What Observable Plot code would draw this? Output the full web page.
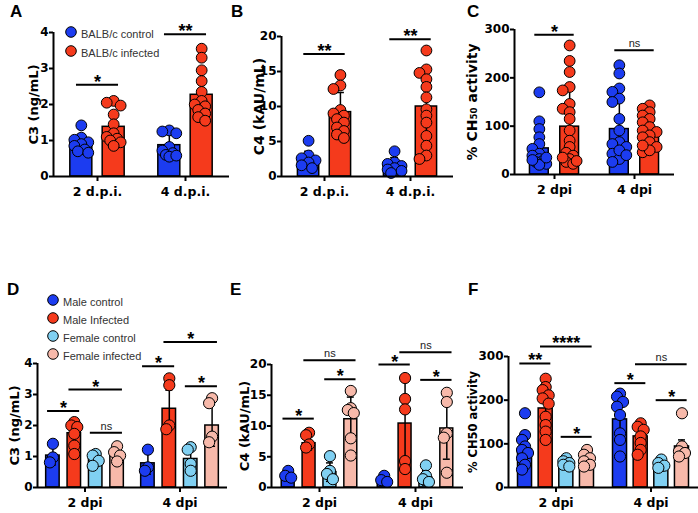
<!DOCTYPE html>
<html><head><meta charset="utf-8">
<script src="https://cdn.jsdelivr.net/npm/d3@7"></script>
<script src="https://cdn.jsdelivr.net/npm/@observablehq/plot@0.6"></script>
<style>
body{margin:0;background:#fff;}
#fig{position:relative;width:698px;height:513px;overflow:hidden;font-family:"Liberation Sans",Arial,sans-serif;background:#fff;}
#fig svg{position:absolute;overflow:visible;}
.letter{position:absolute;font-weight:bold;font-size:17px;line-height:17px;color:#000;}
.legend{position:absolute;font-size:11px;color:#333;}
.legend .row{position:absolute;display:flex;align-items:center;white-space:nowrap;height:14px;}
.legend .row svg{position:static;margin-right:4px;}
</style></head><body><div id="fig"></div>
<script>
// ---------- data ----------
const dpiTop = ["2 d.p.i.", "4 d.p.i."];
const dpiShort = ["2 dpi", "4 dpi"];
const groupsTop = ["BALB/c control", "BALB/c infected"];
const groupsBottom = ["Male control", "Male Infected", "Female control", "Female infected"];
const colorsTop = ["#1c3cf0", "#f53a1c"];
const colorsBottom = ["#1c3cf0", "#f53a1c", "#80d0f2", "#f7b9aa"];

const ticksA = [0, 1, 2, 3, 4];
const ticksB = [0, 5, 10, 15, 20];
const ticksC = [0, 100, 200, 300];
const ticksD = [0, 1, 2, 3, 4];
const ticksE = [0, 5, 10, 15, 20];
const ticksF = [0, 100, 200, 300];

// [dpi][group]
const meanA = [[0.95, 1.38], [0.87, 2.27]];
const sdA = [[0.22, 0.38], [0.30, 0.75]];
const pointsA = [
  [[1.42, 1.08, 1.02, 0.95, 0.9, 0.85, 0.75, 0.7, 0.66],
   [2.1, 2.05, 1.97, 1.72, 1.45, 1.2, 1.1, 1.05, 1.0, 0.95, 0.85]],
  [[1.28, 1.25, 1.2, 0.82, 0.72, 0.65, 0.6, 0.55, 0.58],
   [3.55, 3.3, 2.95, 2.65, 2.35, 2.1, 2.0, 1.95, 1.85, 1.75, 1.65, 1.55]]
];
const sigA = [[0, 0, 1, 2.55, "*"], [1, 0, 1, 3.95, "**"]];

const meanB = [[2.6, 9.2], [1.7, 10.0]];
const sdB = [[1.0, 2.8], [1.0, 4.0]];
const pointsB = [
  [[5.1, 3.0, 2.6, 2.3, 2.0, 1.6, 1.2],
   [14.5, 13.0, 12.5, 9.5, 9.0, 8.7, 8.2, 7.7, 7.0, 6.5, 6.0, 5.5]],
  [[3.6, 2.0, 1.8, 1.5, 1.2, 1.0, 0.8, 0.5],
   [18.0, 15.3, 14.8, 13.9, 12.8, 11.3, 9.6, 8.7, 7.7, 5.8, 4.4, 3.0, 2.5]]
];
const sigB = [[0, 0, 1, 17.5, "**"], [1, 0, 1, 19.6, "**"]];

const meanC = [[54, 99], [94, 87]];
const sdC = [[35, 80], [57, 30]];
const pointsC = [
  [[170, 110, 94, 77, 63, 53, 43, 39, 32, 28, 26, 22, 20, 35, 30],
   [267, 235, 212, 181, 174, 146, 136, 129, 115, 91, 70, 57, 45, 39, 32, 26, 22, 35, 28]],
  [[226, 209, 178, 171, 157, 150, 115, 91, 67, 63, 57, 43, 32, 26, 50, 40],
   [143, 136, 129, 122, 115, 108, 98, 91, 88, 81, 77, 67, 57, 46, 50, 60]]
];
const sigC = [[0, 0, 1, 289, "*"], [1, 0, 1, 257, "ns"]];

const meanD = [[1.03, 1.75, 0.92, 1.03], [0.78, 2.54, 0.92, 2.0]];
const sdD = [[0.3, 0.35, 0.15, 0.18], [0.35, 0.6, 0.3, 0.67]];
const pointsD = [
  [[1.41, 0.97, 0.81], [2.11, 2.0, 1.95, 1.73, 1.35, 1.08], [1.08, 1.03, 0.86, 0.7], [1.33, 1.14, 1.03, 0.84]],
  [[1.22, 0.65, 0.54], [3.52, 3.3, 2.0, 1.88], [1.3, 1.22, 0.76, 0.54], [2.88, 2.72, 1.64, 1.46]]
];
const sigD = [[0, 0, 1, 2.47, "*"], [0, 1, 3, 3.16, "*"], [0, 2, 3, 1.77, "ns"],
              [1, 0, 1, 3.91, "*"], [1, 1, 3, 4.69, "*"], [1, 2, 3, 3.27, "*"]];

const meanE = [[2.1, 7.2, 2.5, 11.1], [1.35, 10.4, 1.6, 9.6]];
const sdE = [[0.5, 1.1, 1.5, 3.6], [0.4, 7.0, 1.2, 5.0]];
const pointsE = [
  [[2.7, 1.9, 1.6], [8.9, 8.5, 7.0, 6.5], [5.1, 2.7, 2.2, 1.35], [15.7, 12.9, 12.6, 12.1, 8.0, 5.2]],
  [[1.9, 1.2, 0.9], [17.8, 14.4, 12.7, 4.3, 3.0], [3.6, 1.9, 1.35, 0.9], [15.4, 13.9, 8.8, 8.1, 2.4]]
];
const sigE = [[0, 0, 1, 11.2, "*"], [0, 1, 3, 20.7, "ns"], [0, 2, 3, 17.6, "*"],
              [1, 0, 1, 20.0, "*"], [1, 1, 3, 22.0, "ns"], [1, 2, 3, 17.5, "*"]];

const meanF = [[88, 181, 52, 63], [156, 117, 46, 94]];
const sdF = [[40, 45, 8, 12], [50, 28, 8, 15]];
const pointsF = [
  [[170, 120, 109, 94, 86, 79, 67, 52, 41], [249, 230, 223, 211, 204, 192, 162, 143, 128, 109],
   [67, 60, 56, 52, 48], [86, 75, 67, 60, 52, 48]],
  [[215, 208, 196, 185, 166, 124, 109, 71], [147, 139, 132, 117, 102, 86, 75],
   [64, 56, 50, 45], [170, 94, 83, 79, 71]]
];
const sigF = [[0, 0, 1, 284, "**"], [0, 1, 3, 323, "****"], [0, 2, 3, 116, "*"],
              [1, 0, 1, 239, "*"], [1, 1, 3, 282, "ns"], [1, 2, 3, 200, "*"]];

// ---------- helpers ----------
function swarm(vals, pxY, r, step, nSlots) {
  const order = d3.range(vals.length).sort((a, b) => vals[b] - vals[a]);
  const slots = [0];
  for (let k = 1; k <= nSlots; k++) slots.push(-k * step, k * step);
  const placed = [], out = new Array(vals.length).fill(0);
  for (const i of order) {
    const yy = vals[i] * pxY;
    let bestX = 0, bestD = -1;
    for (const sx of slots) {
      let md = Infinity;
      for (const p of placed) md = Math.min(md, Math.hypot(p[0] - sx, p[1] - yy));
      if (md >= 1.15 * r) { bestX = sx; break; }
      if (md > bestD) { bestD = md; bestX = sx; }
    }
    placed.push([bestX, yy]);
    out[i] = bestX;
  }
  return out;
}

const AXIS_FONT = "DejaVu Sans, Liberation Sans, sans-serif";
const fig = document.getElementById("fig");

function panel(cfg, L) {
  const {dpis, groups, colors, means, sds, points, sigs, ticks, yLabel} = cfg;
  const yMax = ticks[ticks.length - 1];
  const facetW = (L.width - L.mL - L.mR) / dpis.length;
  const pxX = facetW / (L.xDom[1] - L.xDom[0]);
  const pxY = (L.height - L.mT - L.mB) / yMax;
  const bars = [], dots = [];
  dpis.forEach((dp, di) => groups.forEach((g, gi) => {
    bars.push({dpi: dp, group: g, gi, mean: means[di][gi], sd: sds[di][gi]});
    const vals = points[di][gi];
    const offs = swarm(vals, pxY, L.r, L.step, L.slots);
    vals.forEach((v, k) => dots.push({dpi: dp, group: g, gi, value: v, jx: offs[k] / pxX}));
  }));
  const sig = sigs.map(([di, g1, g2, y, label]) => ({dpi: dpis[di], g1, g2, y, label}));
  const stars = sig.filter(d => d.label !== "ns");
  const ns = sig.filter(d => d.label === "ns");
  const hw = L.hw, cw = L.capPx / pxX, ext = L.ext;

  const svg = Plot.plot({
    width: L.width, height: L.height,
    marginLeft: L.mL, marginRight: L.mR, marginTop: L.mT, marginBottom: L.mB,
    x: {domain: L.xDom, axis: null},
    y: {domain: [0, yMax]},
    fx: {domain: dpis, padding: 0},
    color: {domain: groups, range: colors},
    style: {fontFamily: AXIS_FONT, color: "#000", background: "transparent", overflow: "visible"},
    marks: [
      Plot.rect(bars, {fx: "dpi", x1: d => d.gi - hw, x2: d => d.gi + hw, y1: 0, y2: "mean",
        fill: "group", stroke: "#000", strokeWidth: 1.5}),
      Plot.ruleX(bars, {fx: "dpi", x: "gi", y1: d => d.mean - d.sd, y2: d => d.mean + d.sd, stroke: "#000", strokeWidth: 1.5}),
      Plot.ruleY(bars, {fx: "dpi", x1: d => d.gi - cw, x2: d => d.gi + cw, y: d => d.mean + d.sd, stroke: "#000", strokeWidth: 1.5}),
      Plot.ruleY(bars, {fx: "dpi", x1: d => d.gi - cw, x2: d => d.gi + cw, y: d => d.mean - d.sd, stroke: "#000", strokeWidth: 1.5}),
      Plot.dot(dots, {fx: "dpi", x: d => d.gi + d.jx, y: "value", r: L.r, fill: "group", stroke: "#000", strokeWidth: 1}),
      Plot.ruleY([0], {stroke: "#000", strokeWidth: 2}),
      Plot.ruleX([dpis[0]], {fx: d => d, x: () => L.xDom[0], y1: () => 0, y2: () => yMax, stroke: "#000", strokeWidth: 2}),
      Plot.axisY(ticks, {tickSize: 4, tickPadding: 1, strokeWidth: 2, fontSize: 12, fontWeight: "bold",
        fontFamily: AXIS_FONT, label: null}),
      Plot.axisFx({anchor: "bottom", tickSize: 5, tickPadding: 6, strokeWidth: 2, fontSize: 12.5, fontWeight: "bold",
        fontFamily: AXIS_FONT, label: null}),
      Plot.text([yLabel], {fx: () => dpis[0], text: d => d, frameAnchor: "left", textAnchor: "middle", lineAnchor: "middle",
        rotate: -90, dx: -L.labelOff, fontSize: L.labelSize, fontWeight: "bold", fontFamily: AXIS_FONT, fill: "#000"}),
      Plot.ruleY(sig, {fx: "dpi", x1: d => d.g1 - ext, x2: d => d.g2 + ext, y: "y", stroke: "#000", strokeWidth: 2}),
      Plot.text(stars, {fx: "dpi", x: d => (d.g1 + d.g2) / 2, y: "y", text: "label", lineAnchor: "bottom", dy: 3,
        fontSize: 18, fontWeight: "bold", fontFamily: "Liberation Sans, Arial, sans-serif", fill: "#000"}),
      Plot.text(ns, {fx: "dpi", x: d => (d.g1 + d.g2) / 2, y: "y", text: "label", lineAnchor: "bottom", dy: -3,
        fontSize: 11, fontFamily: "Liberation Sans, Arial, sans-serif", fill: "#222"})
    ]
  });
  svg.style.left = L.left + "px";
  svg.style.top = L.top + "px";
  fig.appendChild(svg);
}

const topCommon = {top: 0, height: 213, r: 5.4, step: 3.5, slots: 2, capPx: 4, ext: 0.15};
const botCommon = {top: 250, height: 263, mB: 26, r: 5.6, step: 3, slots: 1, capPx: 3.5, ext: 0.25};

panel({dpis: dpiTop, groups: groupsTop, colors: colorsTop, means: meanA, sds: sdA, points: pointsA, sigs: sigA, ticks: ticksA, yLabel: "C3 (ng/mL)"},
  {...topCommon, left: 0, width: 230, mL: 52, mR: 1, mT: 32, mB: 37, xDom: [-0.86, 1.86], hw: 0.34, labelOff: 20, labelSize: 13});
panel({dpis: dpiTop, groups: groupsTop, colors: colorsTop, means: meanB, sds: sdB, points: pointsB, sigs: sigB, ticks: ticksB, yLabel: "C4 (kAU/mL)"},
  {...topCommon, left: 230, width: 228, mL: 50, mR: 5, mT: 36, mB: 37, xDom: [-0.85, 1.85], hw: 0.335, labelOff: 22, labelSize: 14});
panel({dpis: dpiShort, groups: groupsTop, colors: colorsTop, means: meanC, sds: sdC, points: pointsC, sigs: sigC, ticks: ticksC, yLabel: "% CH\u2085\u2080 activity"},
  {...topCommon, left: 460, width: 238, mL: 53, mR: 24, mT: 29, mB: 39, xDom: [-0.82, 1.82], hw: 0.31, labelOff: 42, labelSize: 14});
panel({dpis: dpiShort, groups: groupsBottom, colors: colorsBottom, means: meanD, sds: sdD, points: pointsD, sigs: sigD, ticks: ticksD, yLabel: "C3 (ng/mL)"},
  {...botCommon, left: 0, width: 230, mL: 36, mR: 3, mT: 113, xDom: [-0.72, 3.72], hw: 0.315, labelOff: 23, labelSize: 13});
panel({dpis: dpiShort, groups: groupsBottom, colors: colorsBottom, means: meanE, sds: sdE, points: pointsE, sigs: sigE, ticks: ticksE, yLabel: "C4 (kAU/mL)"},
  {...botCommon, left: 230, width: 235, mL: 40, mR: 2, mT: 114, xDom: [-0.8, 3.8], hw: 0.31, labelOff: 27, labelSize: 13});
panel({dpis: dpiShort, groups: groupsBottom, colors: colorsBottom, means: meanF, sds: sdF, points: pointsF, sigs: sigF, ticks: ticksF, yLabel: "% CH50 activity"},
  {...botCommon, left: 465, width: 233, mL: 42, mR: 0, mT: 106, xDom: [-0.8, 3.8], hw: 0.34, labelOff: 35, labelSize: 11.5});

// panel letters
[["A", 10, 3], ["B", 231, 3], ["C", 467, 3], ["D", 7, 281], ["E", 230, 281], ["F", 468, 281]].forEach(([t, x, y]) => {
  const d = document.createElement("div");
  d.className = "letter"; d.textContent = t;
  d.style.left = x + "px"; d.style.top = y + "px";
  fig.appendChild(d);
});

// legends
function legend(groups, colors, x, ys) {
  groups.forEach((g, i) => {
    const row = document.createElement("div");
    row.className = "legend row";
    row.style.left = (x - 6) + "px";
    row.style.top = (ys[i] - 7) + "px";
    row.innerHTML = `<svg width="12" height="12" style="position:static;margin-right:4px"><circle cx="6" cy="6" r="5.3" fill="${colors[i]}" stroke="#000" stroke-width="1"/></svg><span>${g}</span>`;
    fig.appendChild(row);
  });
}
legend(groupsTop, colorsTop, 71, [33, 52]);
legend(groupsBottom, colorsBottom, 53, [301, 318.5, 336.5, 354.5]);
</script></body></html>
